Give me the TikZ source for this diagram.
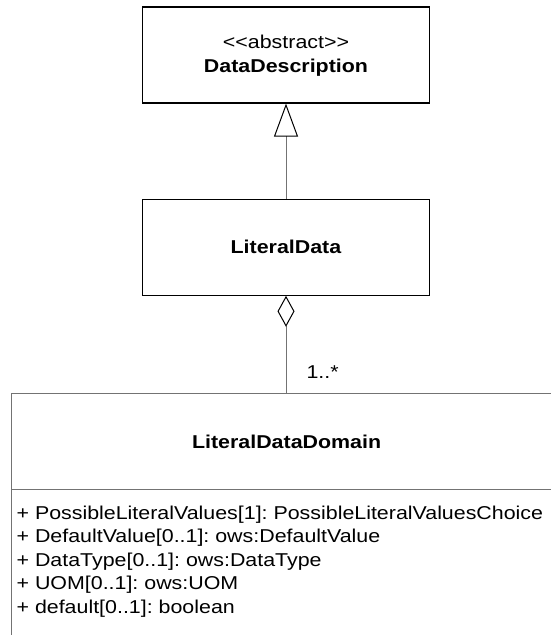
\documentclass[tikz,border=0pt]{standalone}
\usepackage{fontspec}
\setmainfont{Liberation Sans}[FakeStretch=1.15]
\usetikzlibrary{shapes,positioning,arrows.meta}
\colorlet{linegray}{black!55}
\frenchspacing

\begin{document}
\begin{tikzpicture}
  [x=1pt, y=-1pt,
   class/.style={
    rectangle,
    draw,
    line width=1.2pt,
    minimum width=287pt,
    minimum height=96pt,
    align=center,
    font=\fontsize{18.6}{24}\selectfont
    },
   record/.style={
    rectangle split,
    rectangle split parts=#1,
    draw=linegray,
    line width=1.2pt,
    inner xsep=5pt,
    inner ysep=0pt,
    font=\fontsize{18.6}{23.5}\selectfont
    }
  ]
  \useasboundingbox (0,0) rectangle (551,635);
  \clip (0,0) rectangle (551,635);

  % CLASSES
  \node [class, text depth=2pt] (datadescription) at (286,55)
    {<\kern0pt<abstract>\kern0pt>\\ \textbf{DataDescription}};
  \node [class, below=95pt of datadescription] (literaldata) {\textbf{LiteralData}};
  \node [record=2, anchor=north west] (literaldomain) at (11,393)
    {
     \parbox[c][95pt][c]{550pt}{\centering\textbf{LiteralDataDomain}\hspace*{10pt}}%
     \nodepart{two}\parbox[c][200pt][t]{550pt}{\vspace*{12.4pt}\raggedright
       \strut+ PossibleLiteralValues[1]: PossibleLiteralValuesChoice\\
       + DefaultValue[0..1]: ows:DefaultValue\\
       + DataType[0..1]: ows:DataType\\
       + UOM[0..1]: ows:UOM\\
       + default[0..1]: boolean}
    };

  % RELATIONS
  \draw [linegray, line width=1pt, -{Triangle[open, length=33pt, width=24pt, color=black]}]
    (literaldata) -- (datadescription);
  \draw [linegray, line width=1pt, -{Diamond[open, length=31pt, width=17pt, color=black]}]
    (literaldomain.north -| literaldata.south) -- (literaldata);
  \node [above right=15pt and 17pt of literaldomain.north -| literaldata.south, anchor=base west,
    font=\fontsize{18.6}{22}\selectfont] (multiplicity) {1..*};
\end{tikzpicture}
\end{document}
